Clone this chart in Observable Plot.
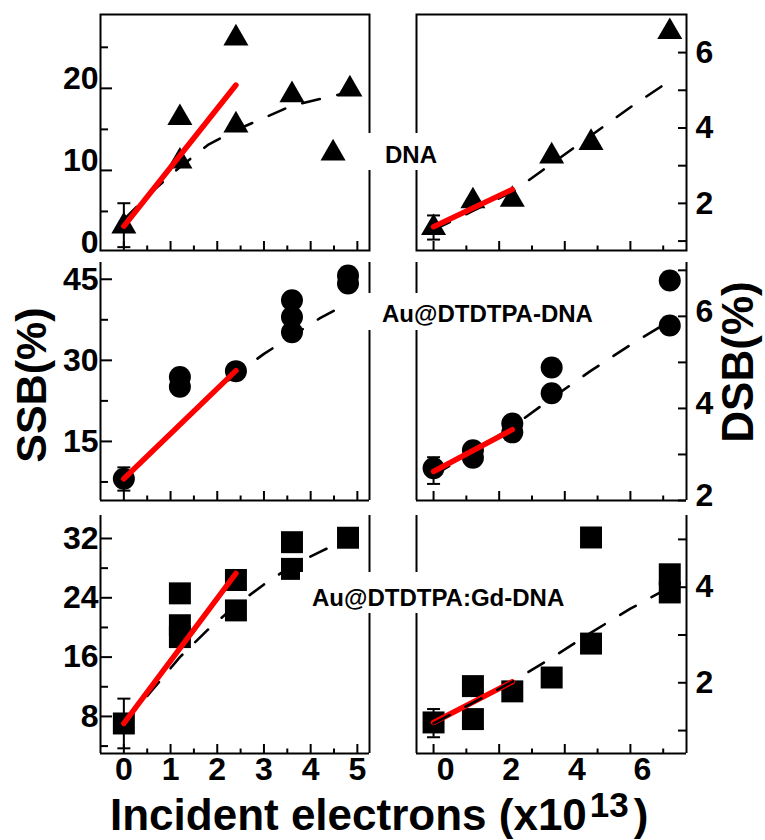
<!DOCTYPE html>
<html><head><meta charset="utf-8">
<script src="https://cdn.jsdelivr.net/npm/d3@7"></script>
<script src="https://cdn.jsdelivr.net/npm/@observablehq/plot@0.6"></script>
<style>
html,body{margin:0;padding:0;background:#fff;}
#chart{position:relative;width:765px;height:840px;background:#fff;overflow:hidden;font-family:'Liberation Sans',Arial,Helvetica,sans-serif;}
.panel{position:absolute;}
#overlay{position:absolute;left:0;top:0;pointer-events:none;}
</style></head>
<body><div id="chart"></div>
<script>
// ---------- tick values ----------
const xTicksLeftMajor = [0, 1, 2, 3, 4, 5];
const xTicksLeftMinor = [0.5, 1.5, 2.5, 3.5, 4.5];
const xTicksRightMajor = [0, 2, 4, 6];
const xTicksRightMinor = [1, 3, 5, 7];
const xLabelsLeft = [0, 1, 2, 3, 4, 5];
const xLabelsRight = [0, 2, 4, 6];

// ---------- SSB, DNA (top left) ----------
const ssbDnaX = [0, 1.2, 1.2, 2.4, 2.4, 3.6, 4.48, 4.84];
const ssbDnaY = [3.2, 16.4, 11.1, 26.1, 15.5, 19.2, 12.1, 19.9];
const ssbDnaErr = [0, 0.65, 6.0];
const ssbDnaRedX = [0, 2.4];
const ssbDnaRedY = [3.2, 20.4];
const ssbDnaFitX = [0, 0.6, 1.2, 1.8, 2.4, 3.0, 3.6, 4.2, 4.8];
const ssbDnaFitY = [4.0, 7.4, 10.4, 13.1, 14.9, 16.4, 17.9, 18.7, 19.5];
const ssbDnaYLabels = [0, 10, 20];
const ssbDnaYMajor = [10, 20];
const ssbDnaYMinor = [5, 15, 25];

// ---------- DSB, DNA (top right) ----------
const dsbDnaX = [0, 1.2, 2.4, 3.6, 4.8, 7.2];
const dsbDnaY = [1.35, 2.06, 2.10, 3.25, 3.61, 6.55];
const dsbDnaErr = [0, 1.04, 1.68];
const dsbDnaRedX = [0, 2.4];
const dsbDnaRedY = [1.38, 2.37];
const dsbDnaFitX = [0, 1.2, 2.4, 3.6, 4.8, 6.0, 7.2];
const dsbDnaFitY = [1.3, 1.8, 2.3, 3.05, 3.8, 4.55, 5.25];
const dsbDnaYLabels = [2, 4, 6];
const dsbDnaYMajor = [2, 4, 6];
const dsbDnaYMinor = [1, 3, 5];

// ---------- SSB, Au@DTDTPA-DNA (middle left) ----------
const ssbAuX = [0, 1.2, 1.2, 2.4, 3.6, 3.6, 3.6, 4.8, 4.8];
const ssbAuY = [8.1, 26.9, 25.1, 28.0, 41.1, 38.0, 35.2, 45.7, 44.2];
const ssbAuErr = [0, 5.9, 10.2];
const ssbAuRedX = [0, 2.4];
const ssbAuRedY = [8.1, 28.1];
const ssbAuFitX = [0, 0.6, 1.2, 1.8, 2.4, 3.0, 3.6, 4.2, 4.8];
const ssbAuFitY = [8.1, 13.3, 18.3, 23.3, 27.4, 31.2, 34.5, 37.8, 40.6];
const ssbAuYLabels = [15, 30, 45];
const ssbAuYMajor = [15, 30, 45];
const ssbAuYMinor = [7.5, 22.5, 37.5];

// ---------- DSB, Au@DTDTPA-DNA (middle right) ----------
const dsbAuX = [0, 1.2, 1.2, 2.4, 2.4, 3.6, 3.6, 7.2, 7.2];
const dsbAuY = [2.7, 3.09, 2.93, 3.67, 3.48, 4.89, 4.33, 6.78, 5.8];
const dsbAuErr = [0, 2.36, 2.94];
const dsbAuRedX = [0, 2.4];
const dsbAuRedY = [2.63, 3.54];
const dsbAuFitX = [0, 1.2, 2.4, 3.6, 4.8, 6.0, 7.2];
const dsbAuFitY = [2.55, 3.05, 3.6, 4.22, 4.82, 5.38, 5.9];
const dsbAuYLabels = [2, 4, 6];
const dsbAuYMajor = [2, 4, 6];
const dsbAuYMinor = [3, 5, 7];

// ---------- SSB, Au@DTDTPA:Gd-DNA (bottom left) ----------
const ssbGdX = [0, 1.2, 1.2, 1.2, 2.4, 2.4, 3.6, 3.6, 4.8];
const ssbGdY = [7.05, 24.6, 20.3, 18.7, 26.4, 22.3, 31.5, 27.9, 32.1];
const ssbGdErr = [0, 3.7, 10.4];
const ssbGdRedX = [0, 2.4];
const ssbGdRedY = [7.05, 27.3];
const ssbGdFitX = [0, 0.6, 1.2, 1.8, 2.4, 3.0, 3.6, 4.2, 4.8];
const ssbGdFitY = [7.1, 11.5, 16.0, 19.7, 23.0, 25.8, 28.3, 30.2, 32.0];
const ssbGdYLabels = [8, 16, 24, 32];
const ssbGdYMajor = [8, 16, 24, 32];
const ssbGdYMinor = [4, 12, 20, 28];

// ---------- DSB, Au@DTDTPA:Gd-DNA (bottom right) ----------
const dsbGdX = [0, 1.2, 1.2, 2.4, 3.6, 4.8, 4.8, 7.2, 7.2];
const dsbGdY = [1.17, 1.93, 1.24, 1.82, 2.11, 5.04, 2.82, 4.27, 3.89];
const dsbGdErr = [0, 0.86, 1.45];
const dsbGdRedX = [0, 2.4];
const dsbGdRedY = [1.17, 2.02];
const dsbGdFitX = [0, 1.2, 2.4, 3.6, 4.8, 6.0, 7.2];
const dsbGdFitY = [1.15, 1.58, 2.02, 2.52, 3.05, 3.55, 4.0];
const dsbGdYLabels = [2, 4];
const dsbGdYMajor = [2, 4];
const dsbGdYMinor = [1, 3, 5];

// ---------- text ----------
const panelLabels = ["DNA", "Au@DTDTPA-DNA", "Au@DTDTPA:Gd-DNA"];
const yTitleLeft = "SSB(%)";
const yTitleRight = "DSB(%)";
const xTitle = "Incident electrons (x10";
const xTitleExp = "13";

const FONT = "'Liberation Sans', Arial, Helvetica, sans-serif";
const capSymbol = {draw(ctx, size) { const r = Math.sqrt(size / Math.PI); ctx.moveTo(-r, 0); ctx.lineTo(r, 0); }};

function makePanel(c) {
  const pts = c.x.map((x, i) => ({x, y: c.y[i]}));
  const fit = c.fitX.map((x, i) => ({x, y: c.fitY[i]}));
  const red = c.redX.map((x, i) => ({x, y: c.redY[i]}));
  const err = [{x: c.err[0], lo: c.err[1], hi: c.err[2]}];
  const caps = [{x: c.err[0], y: c.err[1]}, {x: c.err[0], y: c.err[2]}];
  const fw = c.width - c.ml - c.mr, fh = c.height - c.mt - c.mb;
  const left = c.side === "left";
  const marks = [];
  if (c.top) marks.push(Plot.frame({strokeWidth: 2}));
  else marks.push(
    Plot.ruleX([c.xDomain[0], c.xDomain[1]], {strokeWidth: 2}),
    Plot.ruleY([c.yDomain[0]], {strokeWidth: 2})
  );
  marks.push(Plot.tickX(c.xMajor, {x: d => d, insetTop: fh - 9, strokeWidth: 2}));
  marks.push(Plot.tickX(c.xMinor, {x: d => d, insetTop: fh - 4.5, strokeWidth: 2}));
  if (left) {
    marks.push(Plot.tickY(c.yMajor, {y: d => d, insetRight: fw - 12, strokeWidth: 2}));
    marks.push(Plot.tickY(c.yMinor, {y: d => d, insetRight: fw - 8, strokeWidth: 2}));
  } else {
    marks.push(Plot.tickY(c.yMajor, {y: d => d, insetLeft: fw - 8, strokeWidth: 2}));
    marks.push(Plot.tickY(c.yMinor, {y: d => d, insetLeft: fw - 8, strokeWidth: 2}));
  }
  marks.push(Plot.axisY(c.yLabels, {anchor: left ? "left" : "right", tickSize: 0, tickPadding: left ? 2 : 9,
    dy: c.yDy || 0, fontSize: 32, fontWeight: "bold", label: null}));
  if (c.xLabels) marks.push(Plot.axisX(c.xLabels, {anchor: "bottom", tickSize: 0, tickPadding: 4,
    dx: c.xDx || 0, fontSize: 32, fontWeight: "bold", label: null}));
  const fitMark = Plot.line(fit, {x: "x", y: "y", stroke: "black", strokeWidth: 2.6, strokeDasharray: "18,18"});
  const dotMark = Plot.dot(pts, {x: "x", y: "y", symbol: c.symbol, r: c.r, fill: "black"});
  const errMarks = [
    Plot.ruleX(err, {x: "x", y1: "lo", y2: "hi", strokeWidth: 2}),
    Plot.dot(caps, {x: "x", y: "y", symbol: capSymbol, r: 6.5, stroke: "black", strokeWidth: 2, fill: "none"})
  ];
  const redMark = Plot.line(red, {x: "x", y: "y", stroke: "#ff0000", strokeWidth: 5.5, strokeLinecap: "round"});
  if (c.fitOnTop) marks.push(dotMark, ...errMarks, redMark, fitMark);
  else marks.push(fitMark, dotMark, ...errMarks, redMark);
  const svg = Plot.plot({
    width: c.width, height: c.height,
    marginTop: c.mt, marginRight: c.mr, marginBottom: c.mb, marginLeft: c.ml,
    x: {domain: c.xDomain, axis: null},
    y: {domain: c.yDomain, axis: null},
    style: {fontFamily: FONT, fontWeight: "bold", fontSize: "32px", overflow: "visible", background: "transparent", maxWidth: "none", color: "black"},
    marks
  });
  const div = document.createElement("div");
  div.className = "panel";
  div.style.left = c.left + "px";
  div.style.top = c.topPx + "px";
  div.style.width = c.width + "px";
  div.style.height = c.height + "px";
  div.appendChild(svg);
  document.getElementById("chart").appendChild(div);
}

const LX = [-0.50, 5.26], RX = [-0.52, 7.71];
const L = {side: "left", left: 0, width: 380, ml: 100, mr: 11, xDomain: LX, xMajor: xTicksLeftMajor, xMinor: xTicksLeftMinor};
const R = {side: "right", left: 380, width: 385, ml: 36, mr: 79, xDomain: RX, xMajor: xTicksRightMajor, xMinor: xTicksRightMinor};
const T = {topPx: 0, height: 256, mt: 14, mb: 6, top: true};
const M = {topPx: 256, height: 250, mt: 6, mb: 6, top: false};
const B = {topPx: 506, height: 290, mt: 9, mb: 43, top: false};

makePanel({...L, ...T, yDomain: [0.24, 29.0], x: ssbDnaX, y: ssbDnaY, err: ssbDnaErr, redX: ssbDnaRedX, redY: ssbDnaRedY,
  fitX: ssbDnaFitX, fitY: ssbDnaFitY, yLabels: ssbDnaYLabels, yMajor: ssbDnaYMajor, yMinor: ssbDnaYMinor, yDy: -10, symbol: "triangle", r: 9.3});
makePanel({...R, ...T, yDomain: [0.75, 7.01], x: dsbDnaX, y: dsbDnaY, err: dsbDnaErr, redX: dsbDnaRedX, redY: dsbDnaRedY,
  fitX: dsbDnaFitX, fitY: dsbDnaFitY, yLabels: dsbDnaYLabels, yMajor: dsbDnaYMajor, yMinor: dsbDnaYMinor, symbol: "triangle", r: 9.3});
makePanel({...L, ...M, yDomain: [4.07, 48.1], x: ssbAuX, y: ssbAuY, err: ssbAuErr, redX: ssbAuRedX, redY: ssbAuRedY,
  fitX: ssbAuFitX, fitY: ssbAuFitY, yLabels: ssbAuYLabels, yMajor: ssbAuYMajor, yMinor: ssbAuYMinor, symbol: "circle", r: 11});
makePanel({...R, ...M, yDomain: [2.0, 7.17], x: dsbAuX, y: dsbAuY, err: dsbAuErr, redX: dsbAuRedX, redY: dsbAuRedY,
  fitX: dsbAuFitX, fitY: dsbAuFitY, yLabels: dsbAuYLabels, yMajor: dsbAuYMajor, yMinor: dsbAuYMinor, yDy: -5, symbol: "circle", r: 11});
makePanel({...L, ...B, yDomain: [3.0, 35.1], x: ssbGdX, y: ssbGdY, err: ssbGdErr, redX: ssbGdRedX, redY: ssbGdRedY,
  fitX: ssbGdFitX, fitY: ssbGdFitY, yLabels: ssbGdYLabels, yMajor: ssbGdYMajor, yMinor: ssbGdYMinor, symbol: "square", r: 12.4,
  xLabels: xLabelsLeft});
makePanel({...R, ...B, yDomain: [0.52, 5.5], x: dsbGdX, y: dsbGdY, err: dsbGdErr, redX: dsbGdRedX, redY: dsbGdRedY,
  fitX: dsbGdFitX, fitY: dsbGdFitY, yLabels: dsbGdYLabels, yMajor: dsbGdYMajor, yMinor: dsbGdYMinor, symbol: "square", r: 12.4,
  xLabels: xLabelsRight, xDx: 12, fitOnTop: true});

// ---------- overlay: panel labels and axis titles ----------
const ns = "http://www.w3.org/2000/svg";
const ov = document.createElementNS(ns, "svg");
ov.setAttribute("id", "overlay");
ov.setAttribute("width", 765);
ov.setAttribute("height", 840);
ov.setAttribute("font-family", FONT);
ov.setAttribute("font-weight", "bold");
ov.innerHTML = `
  <rect x="362" y="133" width="84" height="37" fill="#fff"/>
  <text x="385" y="163" font-size="24">${panelLabels[0]}</text>
  <rect x="358" y="293" width="255" height="37" fill="#fff"/>
  <text x="382" y="322" font-size="24">${panelLabels[1]}</text>
  <rect x="300" y="572" width="290" height="41" fill="#fff"/>
  <text x="312" y="606" font-size="24">${panelLabels[2]}</text>
  <text transform="translate(46,385) rotate(-90)" text-anchor="middle" font-size="43">${yTitleLeft}</text>
  <text transform="translate(753,362) rotate(-90)" text-anchor="middle" font-size="44">${yTitleRight}</text>
  <text x="110" y="830" font-size="44">${xTitle}<tspan dx="3" y="817" font-size="35">${xTitleExp}</tspan><tspan dx="5" y="830">)</tspan></text>
`;
document.getElementById("chart").appendChild(ov);
</script>
</body></html>
